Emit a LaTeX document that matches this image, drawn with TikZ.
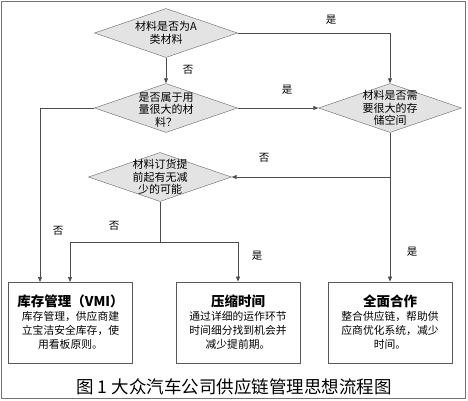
\documentclass[tikz,border=0pt]{standalone}
\usepackage{fontspec}
\newfontfamily\cjk{Noto Sans CJK SC}
\usetikzlibrary{shapes.geometric,arrows.meta}

\begin{document}
\begin{tikzpicture}[x=1pt,y=-1pt,
      /tikz/font=\cjk,
      dia/.style={diamond, draw=black!60, fill=black!11, inner sep=0pt, minimum width=143pt, minimum height=49pt},
      diatext/.style={align=center, inner sep=0pt, font=\cjk\fontsize{11}{12.5}\selectfont},
      boxnode/.style={draw=black!65, line width=0.8pt, minimum width=124pt, minimum height=81pt, text width=118pt, align=center, inner sep=0pt, font=\cjk\fontsize{10.8}{14}\selectfont},
      arr/.style={-{Triangle[length=5pt,width=4pt]}, draw=black!70, line width=0.7pt},
      lnk/.style={draw=black!70, line width=0.7pt},
      yesno/.style={font=\cjk\fontsize{10.5}{10.5}\selectfont},
    ]
    \useasboundingbox (0,0) rectangle (468,400);
    \draw[black!55, line width=1pt] (1,1.5) rectangle (465.5,398.5);

    % decisions
    \node[dia] (d1) at (166,33) {};
    \node[diatext] at (d1) {材料是否为A\\类材料};
    \node[dia] (d2) at (166,108) {};
    \node[diatext] at (166,110) {是否属于用\\量很大的材\\料？};
    \node[dia] (d3) at (390,108) {};
    \node[diatext] at (d3) {材料是否需\\要很大的存\\储空间};
    \node[dia] (d4) at (160,177) {};
    \node[diatext] at (d4) {材料订货提\\前起有无减\\少的可能};

    % results
    \node[boxnode] (b1) at (70.5,322.5) {{\bfseries\fontsize{13.5}{15}\selectfont 库存管理（VMI）}\\库存管理，供应商建\\立宝洁安全库存，使\\用看板原则。};
    \node[boxnode] (b2) at (238,322.5) {{\bfseries\fontsize{13.5}{15}\selectfont 压缩时间}\\通过详细的运作环节\\时间细分找到机会并\\减少提前期。};
    \node[boxnode] (b3) at (390,322.5) {{\bfseries\fontsize{13.5}{15}\selectfont 全面合作}\\整合供应链，帮助供\\应商优化系统，减少\\时间。};

    % junctions
    \coordinate (b1a) at (40,282);
    \coordinate (b1b) at (70,282);
    \coordinate (jr) at (390,177);
    \coordinate (jl) at (160,242);
    \coordinate (jll) at (70,242);
    \coordinate (jlr) at (238,242);

    % connectors
    \draw[arr] (d1.south) -- (d2.north);
    \draw[arr] (d1.east) -| (d3.north);
    \draw[arr] (d2.east) -- (d3.west);
    \draw[arr] (d2.west) -| (b1a);
    \draw[lnk] (d3.south) -- (jr);
    \draw[arr] (jr) -- (d4.east);
    \draw[arr] (jr) -- (b3.north);
    \draw[lnk] (d4.south) -- (jl);
    \draw[lnk] (jll) -- (jlr);
    \draw[arr] (jll) -- (b1b);
    \draw[arr] (jlr) -- (b2.north);

    % yes / no
    \node[yesno] at (331,20) {是};
    \node[yesno] at (188,70) {否};
    \node[yesno] at (287,90) {是};
    \node[yesno] at (264,158) {否};
    \node[yesno] at (58,231) {否};
    \node[yesno] at (114,226) {否};
    \node[yesno] at (257,256) {是};
    \node[yesno] at (412,252) {是};

    % caption
    \node[font=\cjk\fontsize{17.5}{17.5}\selectfont] (cap) at (234,387) {图 1 大众汽车公司供应链管理思想流程图};
  \end{tikzpicture}
\end{document}
